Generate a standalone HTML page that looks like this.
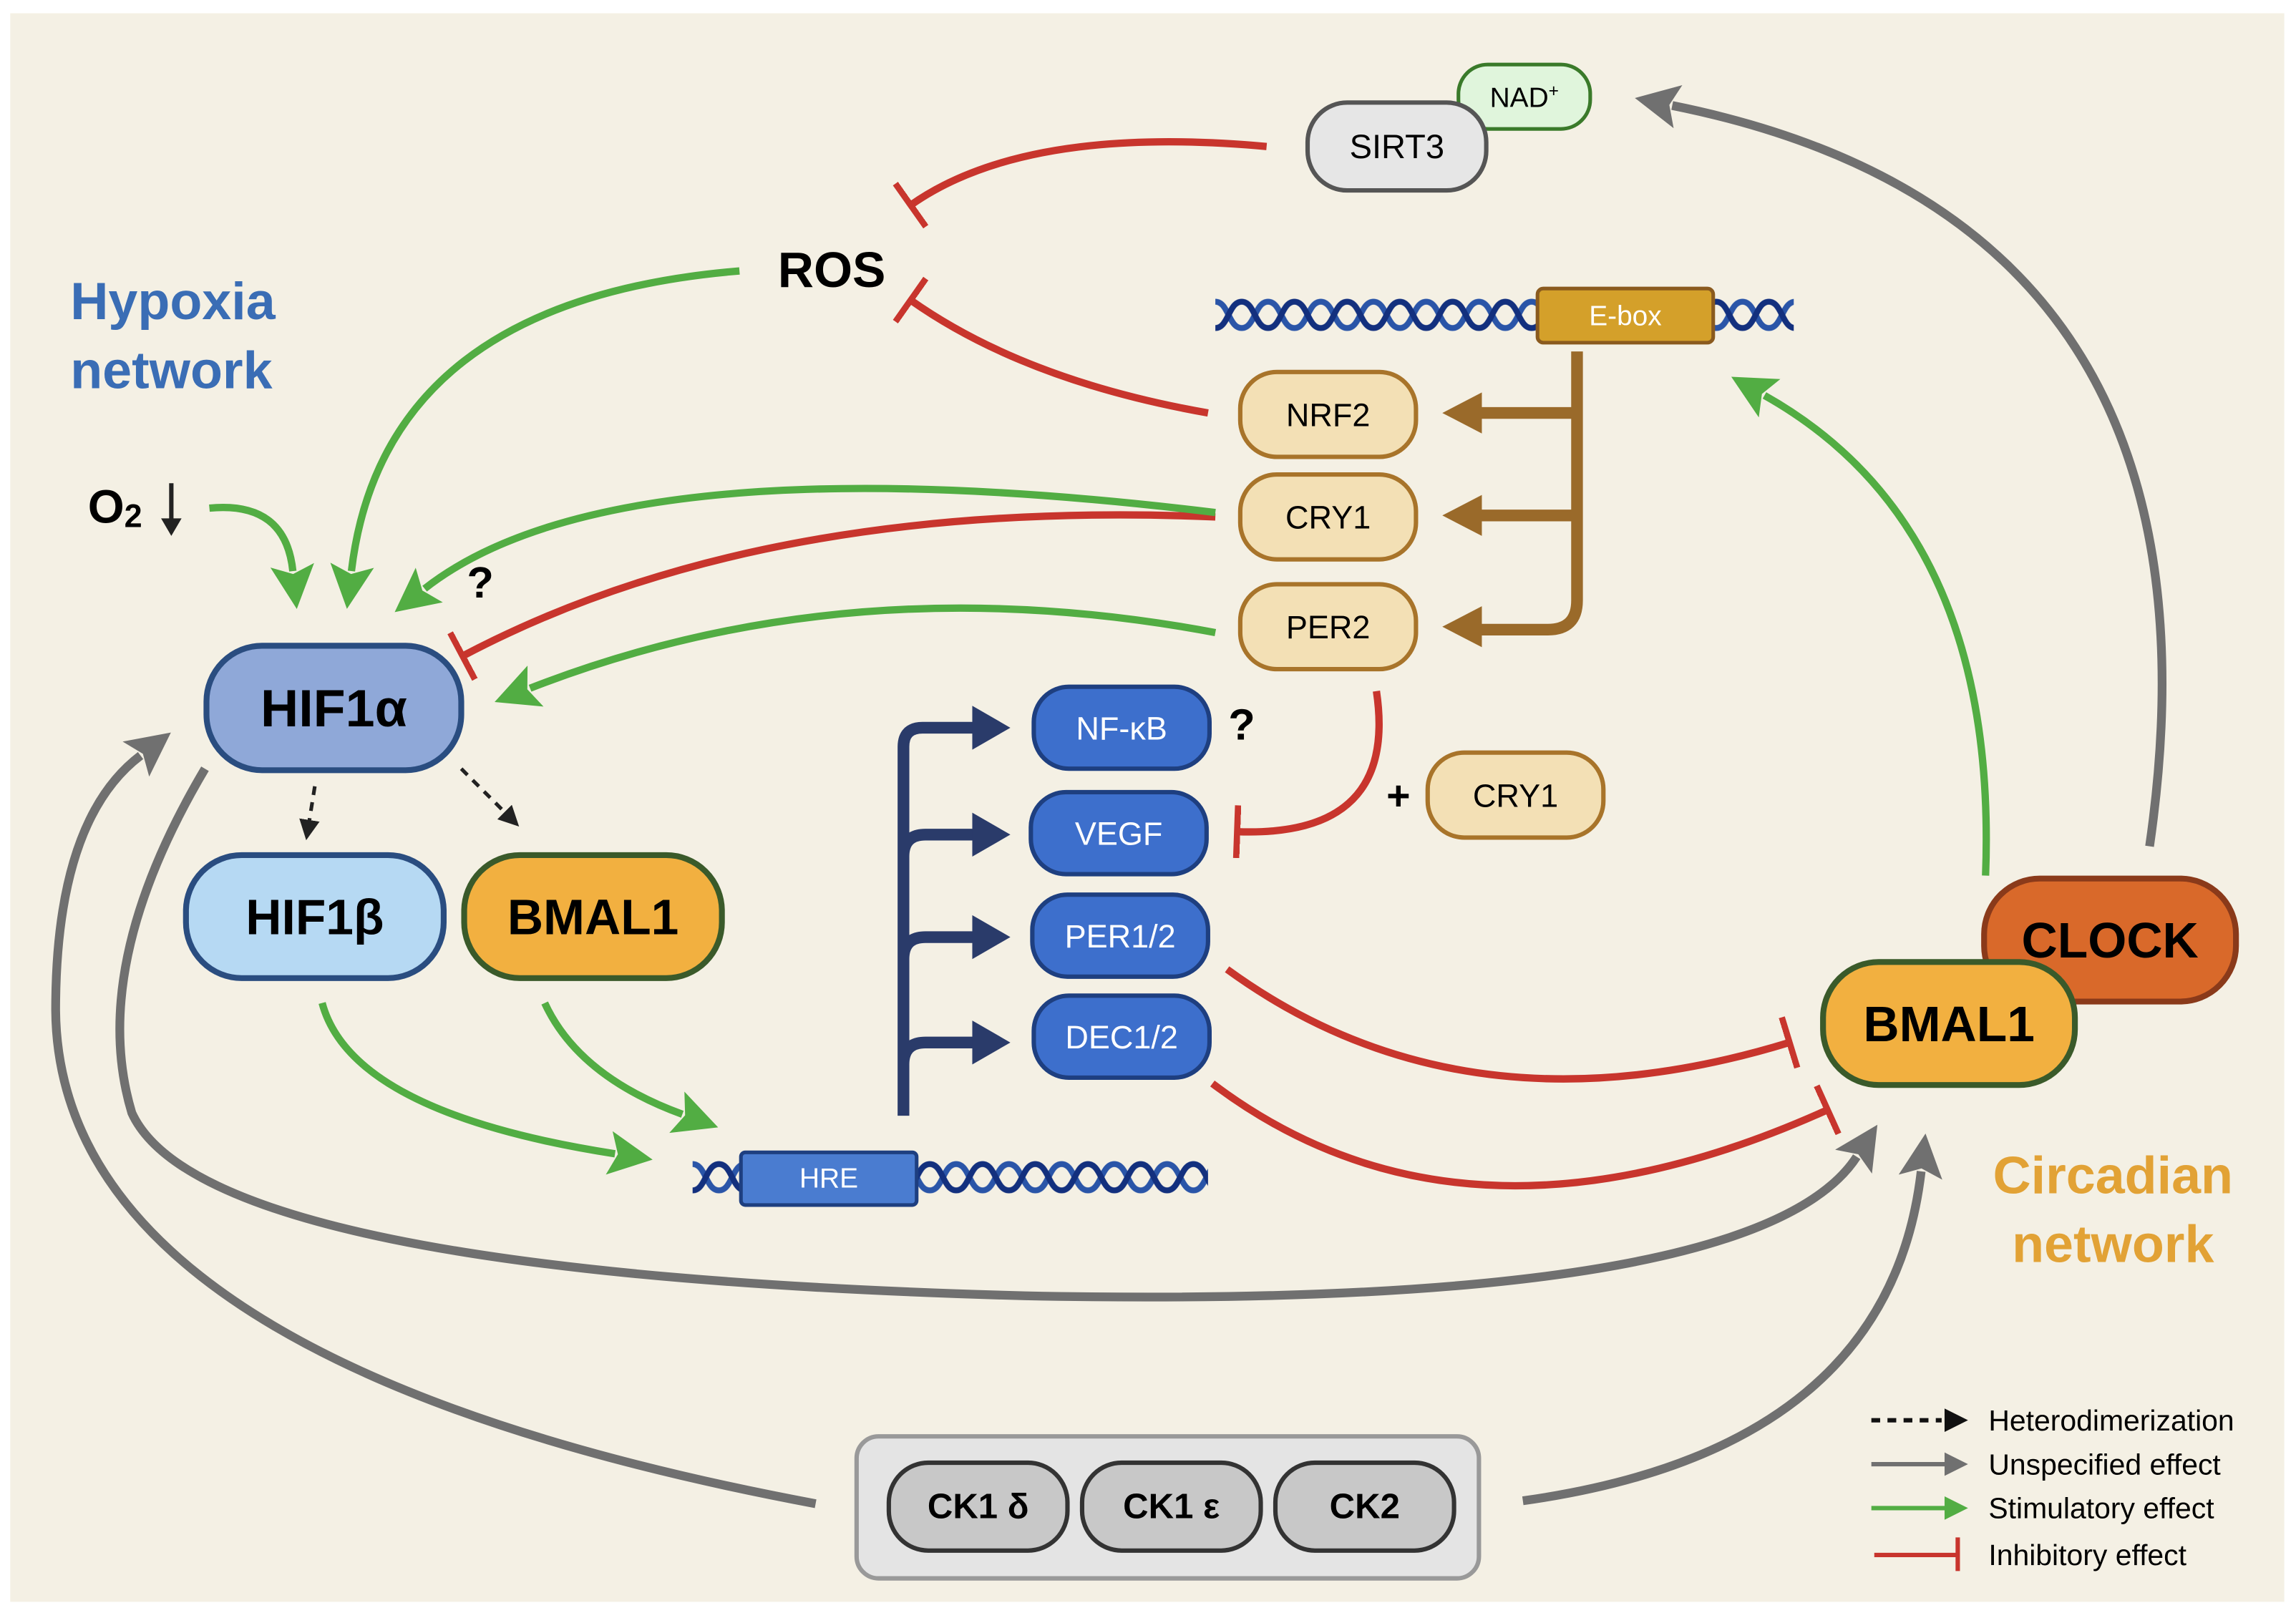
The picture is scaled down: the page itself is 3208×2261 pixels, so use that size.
<!DOCTYPE html>
<html><head><meta charset="utf-8"><style>
html,body{margin:0;padding:0;background:#fff;}
svg{display:block;}
text{font-family:"Liberation Sans",sans-serif;}
</style></head><body>
<svg width="3208" height="2261" viewBox="0 0 1568 1105" xmlns="http://www.w3.org/2000/svg">
<defs>
<marker id="ag" markerUnits="userSpaceOnUse" markerWidth="40" markerHeight="40" refX="4" refY="15" orient="auto"><path d="M0,0 L30,15 L0,30 L6,15 Z" fill="#52ad43"/></marker>
<marker id="agr" markerUnits="userSpaceOnUse" markerWidth="40" markerHeight="40" refX="4" refY="15" orient="auto"><path d="M0,0 L30,15 L0,30 L6,15 Z" fill="#707070"/></marker>
<marker id="ak" markerUnits="userSpaceOnUse" markerWidth="20" markerHeight="20" refX="2" refY="7" orient="auto"><path d="M0,0 L14,7 L0,14 Z" fill="#222"/></marker>
<marker id="tr" markerUnits="userSpaceOnUse" markerWidth="10" markerHeight="40" refX="2" refY="18" orient="auto"><path d="M2,0 L2,36" stroke="#c8352d" stroke-width="4.5"/></marker>
<pattern id="helix1" patternUnits="userSpaceOnUse" x="830" y="202" width="36" height="26">
<path d="M0,4 C9,4 9,22 18,22 C27,22 27,4 36,4" fill="none" stroke="#2a55a8" stroke-width="4"/>
<path d="M0,22 C9,22 9,4 18,4 C27,4 27,22 36,22" fill="none" stroke="#13307e" stroke-width="4"/>
</pattern>
<pattern id="helix2" patternUnits="userSpaceOnUse" x="473" y="791" width="36" height="26">
<path d="M0,4 C9,4 9,22 18,22 C27,22 27,4 36,4" fill="none" stroke="#2a55a8" stroke-width="4"/>
<path d="M0,22 C9,22 9,4 18,4 C27,4 27,22 36,22" fill="none" stroke="#13307e" stroke-width="4"/>
</pattern>
</defs>
<rect x="0" y="0" width="1568" height="1105" fill="#fff"/>
<rect x="7" y="9" width="1553" height="1085" fill="#f4f0e4"/>

<text x="48" y="218" font-size="36" font-weight="bold" fill="#3a6db5">Hypoxia</text>
<text x="48" y="265" font-size="36" font-weight="bold" fill="#3a6db5">network</text>
<text x="1443" y="815" font-size="36" font-weight="bold" fill="#e2a235" text-anchor="middle">Circadian</text>
<text x="1443" y="862" font-size="36" font-weight="bold" fill="#e2a235" text-anchor="middle">network</text>

<path d="M1468,578 Q1530,150 1142,72" fill="none" stroke="#707070" stroke-width="6" marker-end="url(#agr)"/>
<path d="M140,525 Q60,660 90,760 Q140,870 700,885 Q1200,895 1268,790" fill="none" stroke="#707070" stroke-width="6" marker-end="url(#agr)"/>
<path d="M557,1027 Q40,930 38,690 Q38,560 96,516" fill="none" stroke="#707070" stroke-width="6" marker-end="url(#agr)"/>
<path d="M1040,1025 Q1290,990 1312,800" fill="none" stroke="#707070" stroke-width="6" marker-end="url(#agr)"/>

<path d="M865,100 Q700,85 622,140" fill="none" stroke="#c8352d" stroke-width="5" marker-end="url(#tr)"/>
<path d="M825,282 Q700,260 622,205" fill="none" stroke="#c8352d" stroke-width="5" marker-end="url(#tr)"/>
<path d="M830,353 Q520,340 316,448" fill="none" stroke="#c8352d" stroke-width="5" marker-end="url(#tr)"/>
<path d="M940,472 Q955,572 845,568" fill="none" stroke="#c8352d" stroke-width="5" marker-end="url(#tr)"/>
<path d="M838,662 Q1000,780 1222,712" fill="none" stroke="#c8352d" stroke-width="5" marker-end="url(#tr)"/>
<path d="M828,740 Q1000,870 1248,758" fill="none" stroke="#c8352d" stroke-width="5" marker-end="url(#tr)"/>

<path d="M505,185 Q262,205 240,390" fill="none" stroke="#52ad43" stroke-width="5" marker-end="url(#ag)"/>
<path d="M143,347 Q195,342 200,390" fill="none" stroke="#52ad43" stroke-width="5" marker-end="url(#ag)"/>
<path d="M830,350 Q420,300 290,402" fill="none" stroke="#52ad43" stroke-width="5" marker-end="url(#ag)"/>
<path d="M830,432 Q580,385 362,470" fill="none" stroke="#52ad43" stroke-width="5" marker-end="url(#ag)"/>
<path d="M220,685 Q240,760 420,788" fill="none" stroke="#52ad43" stroke-width="5" marker-end="url(#ag)"/>
<path d="M372,685 Q395,735 466,761" fill="none" stroke="#52ad43" stroke-width="5" marker-end="url(#ag)"/>
<path d="M1356,598 Q1365,360 1205,270" fill="none" stroke="#52ad43" stroke-width="5" marker-end="url(#ag)"/>

<path d="M215,537 L211,562" fill="none" stroke="#222" stroke-width="2.5" stroke-dasharray="6,5" marker-end="url(#ak)"/>
<path d="M315,525 L346,556" fill="none" stroke="#222" stroke-width="2.5" stroke-dasharray="6,5" marker-end="url(#ak)"/>

<rect x="830" y="202" width="395" height="26" fill="url(#helix1)"/>
<rect x="1050" y="197" width="120" height="37" rx="4" fill="#d4a02a" stroke="#8a5a1e" stroke-width="2.5"/>
<text x="1110" y="222" font-size="19" fill="#fff" text-anchor="middle">E-box</text>

<path d="M1077,240 L1077,410 Q1077,430 1057,430 L1010,430 M1077,352 L1010,352 M1077,282 L1010,282" fill="none" stroke="#9a6a2a" stroke-width="8"/>
<path d="M1012,268 L985,282 L1012,296 Z M1012,338 L985,352 L1012,366 Z M1012,414 L985,428 L1012,442 Z" fill="#9a6a2a"/>

<rect x="473" y="791" width="352" height="26" fill="url(#helix2)"/>
<rect x="506" y="787" width="120" height="36" rx="3" fill="#4a7cd0" stroke="#1e3f80" stroke-width="2.5"/>
<text x="566" y="811" font-size="19" fill="#fff" text-anchor="middle">HRE</text>

<path d="M617,762 L617,510 Q617,497 630,497 L668,497 M617,585 Q617,570 632,570 L668,570 M617,655 Q617,640 632,640 L668,640 M617,727 Q617,712 632,712 L668,712" fill="none" stroke="#2a3b6a" stroke-width="8"/>
<path d="M664,482 L690,497 L664,512 Z M664,555 L690,570 L664,585 Z M664,625 L690,640 L664,655 Z M664,697 L690,712 L664,727 Z" fill="#2a3b6a"/>

<rect x="996" y="44" width="90" height="44" rx="20" fill="#e0f5dc" stroke="#3a7a2a" stroke-width="2.5"/>
<text x="1041" y="73" font-size="19" text-anchor="middle">NAD<tspan font-size="12" dy="-7">+</tspan></text>
<rect x="893" y="70" width="122" height="60" rx="27" fill="#e6e6e6" stroke="#555" stroke-width="3"/>
<text x="954" y="108" font-size="23" text-anchor="middle">SIRT3</text>

<text x="568" y="196" font-size="34" font-weight="bold" text-anchor="middle">ROS</text>
<text x="60" y="357" font-size="32" font-weight="bold">O<tspan font-size="22" dy="3">2</tspan></text>
<path d="M117,330 L117,360" stroke="#222" stroke-width="3"/><path d="M110,354 L117,366 L124,354 Z" fill="#222"/>
<text x="328" y="408" font-size="30" font-weight="bold" text-anchor="middle">?</text>

<g font-size="22" text-anchor="middle">
<rect x="847" y="254" width="120" height="58" rx="25" fill="#f3e0b5" stroke="#a8742a" stroke-width="3"/>
<text x="907" y="291">NRF2</text>
<rect x="847" y="324" width="120" height="58" rx="25" fill="#f3e0b5" stroke="#a8742a" stroke-width="3"/>
<text x="907" y="361">CRY1</text>
<rect x="847" y="399" width="120" height="58" rx="25" fill="#f3e0b5" stroke="#a8742a" stroke-width="3"/>
<text x="907" y="436">PER2</text>
<rect x="975" y="514" width="120" height="58" rx="25" fill="#f3e0b5" stroke="#a8742a" stroke-width="3"/>
<text x="1035" y="551">CRY1</text>
</g>
<text x="955" y="553" font-size="28" font-weight="bold" text-anchor="middle">+</text>

<g font-size="22" text-anchor="middle" fill="#fff">
<rect x="706" y="469" width="120" height="56" rx="24" fill="#3d6fcc" stroke="#1e3f80" stroke-width="3"/>
<text x="766" y="505">NF-κB</text>
<rect x="704" y="541" width="120" height="56" rx="24" fill="#3d6fcc" stroke="#1e3f80" stroke-width="3"/>
<text x="764" y="577">VEGF</text>
<rect x="705" y="611" width="120" height="56" rx="24" fill="#3d6fcc" stroke="#1e3f80" stroke-width="3"/>
<text x="765" y="647">PER1/2</text>
<rect x="706" y="680" width="120" height="56" rx="24" fill="#3d6fcc" stroke="#1e3f80" stroke-width="3"/>
<text x="766" y="716">DEC1/2</text>
</g>
<text x="848" y="505" font-size="30" font-weight="bold" text-anchor="middle">?</text>

<g font-weight="bold" text-anchor="middle">
<rect x="141" y="441" width="174" height="85" rx="38" fill="#8fa8d8" stroke="#2a4d80" stroke-width="4"/>
<text x="228" y="496" font-size="36">HIF1α</text>
<rect x="127" y="584" width="176" height="84" rx="38" fill="#b6d9f3" stroke="#2a4d80" stroke-width="4"/>
<text x="215" y="638" font-size="34">HIF1β</text>
<rect x="317" y="584" width="176" height="84" rx="38" fill="#f2b040" stroke="#3a5a2a" stroke-width="4"/>
<text x="405" y="638" font-size="34">BMAL1</text>
<rect x="1355" y="600" width="172" height="84" rx="38" fill="#d9692a" stroke="#8a3a1a" stroke-width="4"/>
<text x="1441" y="654" font-size="34">CLOCK</text>
<rect x="1245" y="657" width="172" height="84" rx="38" fill="#f2b040" stroke="#3a5a2a" stroke-width="4"/>
<text x="1331" y="711" font-size="34">BMAL1</text>
</g>

<rect x="585" y="981" width="425" height="97" rx="15" fill="#e4e4e4" stroke="#999" stroke-width="3"/>
<g font-size="24" font-weight="bold" text-anchor="middle">
<rect x="607" y="999" width="122" height="60" rx="27" fill="#c8c8c8" stroke="#333" stroke-width="3"/>
<text x="668" y="1037">CK1 δ</text>
<rect x="739" y="999" width="122" height="60" rx="27" fill="#c8c8c8" stroke="#333" stroke-width="3"/>
<text x="800" y="1037">CK1 ε</text>
<rect x="871" y="999" width="122" height="60" rx="27" fill="#c8c8c8" stroke="#333" stroke-width="3"/>
<text x="932" y="1037">CK2</text>
</g>

<path d="M1278,970 L1326,970" stroke="#111" stroke-width="3" stroke-dasharray="6,5"/>
<path d="M1328,962 L1344,970 L1328,978 Z" fill="#111"/>
<path d="M1278,1000 L1330,1000" stroke="#707070" stroke-width="3"/>
<path d="M1328,992 L1344,1000 L1328,1008 Z" fill="#707070"/>
<path d="M1278,1030 L1330,1030" stroke="#52ad43" stroke-width="3"/>
<path d="M1328,1022 L1344,1030 L1328,1038 Z" fill="#52ad43"/>
<path d="M1280,1062 L1336,1062 M1337,1050 L1337,1073" stroke="#c8352d" stroke-width="3"/>
<g font-size="20">
<text x="1358" y="977">Heterodimerization</text>
<text x="1358" y="1007">Unspecified effect</text>
<text x="1358" y="1037">Stimulatory effect</text>
<text x="1358" y="1069">Inhibitory effect</text>
</g>
</svg>
</body></html>
